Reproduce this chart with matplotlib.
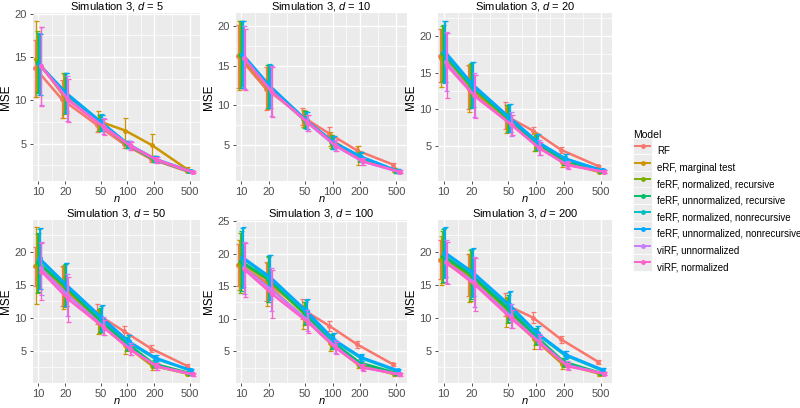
import matplotlib.pyplot as plt
import numpy as np
from matplotlib.legend_handler import HandlerBase
from matplotlib.patches import Rectangle
from matplotlib.lines import Line2D
from matplotlib.ticker import NullFormatter

plt.rcParams['font.family'] = ['Liberation Sans', 'DejaVu Sans']
plt.rcParams['mathtext.fontset'] = 'custom'
plt.rcParams['mathtext.it'] = 'Liberation Sans:italic'
plt.rcParams['mathtext.rm'] = 'Liberation Sans'

n_vals = [10, 20, 50, 100, 200, 500]
dims = [5, 10, 20, 50, 100, 200]
models = ['RF', 'eRF, marginal test', 'feRF, normalized, recursive',
          'feRF, unnormalized, recursive', 'feRF, normalized, nonrecursive',
          'feRF, unnormalized, nonrecursive', 'viRF, unnormalized', 'viRF, normalized']
colors = ['#F8766D', '#CD9600', '#7CAE00', '#00BE67', '#00BFC4', '#00A9FF', '#C77CFF', '#FF61CC']

# mean MSE per model (rows) at n = 10, 20, 50, 100, 200, 500
mse_d5 = [[13.7, 10.1, 7.1, 4.9, 3.2, 1.8],
          [14.8, 10.6, 7.6, 6.5, 4.8, 2.0],
          [14.5, 10.7, 7.4, 4.9, 3.2, 1.8],
          [14.3, 10.8, 7.4, 4.9, 3.2, 1.8],
          [14.2, 10.9, 7.5, 4.9, 3.2, 1.8],
          [14.1, 10.8, 7.4, 4.9, 3.2, 1.8],
          [14.0, 10.2, 7.0, 4.8, 3.1, 1.7],
          [13.9, 10.0, 6.9, 4.7, 3.1, 1.7]]
err_d5 = [[3.3, 2.2, 0.8, 0.4, 0.3, 0.15],
          [4.4, 2.6, 1.2, 1.5, 1.3, 0.3],
          [3.5, 2.3, 0.9, 0.4, 0.3, 0.15],
          [3.5, 2.3, 0.9, 0.4, 0.3, 0.15],
          [3.6, 2.2, 0.9, 0.4, 0.3, 0.15],
          [3.5, 2.3, 0.9, 0.4, 0.3, 0.15],
          [4.5, 2.6, 0.9, 0.5, 0.3, 0.15],
          [4.6, 2.5, 0.9, 0.5, 0.3, 0.15]]

mse_d10 = [[16.2, 12.1, 8.6, 6.4, 4.3, 2.5],
           [16.3, 12.3, 8.3, 5.7, 3.6, 1.8],
           [16.4, 12.4, 8.2, 5.4, 3.5, 1.7],
           [16.4, 12.4, 8.2, 5.3, 3.4, 1.7],
           [16.5, 12.5, 8.1, 5.3, 3.5, 1.7],
           [16.4, 12.4, 8.1, 5.3, 3.5, 1.7],
           [16.0, 11.8, 7.8, 4.9, 2.9, 1.6],
           [15.8, 11.7, 7.8, 4.9, 2.9, 1.6]]
err_d10 = [[4.0, 2.7, 1.1, 0.8, 0.6, 0.25],
           [4.4, 2.8, 1.1, 0.9, 1.2, 0.25],
           [4.2, 2.7, 1.1, 0.8, 0.6, 0.2],
           [4.2, 2.7, 1.1, 0.8, 0.6, 0.2],
           [4.1, 2.7, 1.1, 0.8, 0.6, 0.2],
           [4.2, 2.7, 1.1, 0.8, 0.6, 0.2],
           [4.0, 3.2, 1.0, 0.7, 0.5, 0.2],
           [3.9, 3.2, 1.0, 0.7, 0.5, 0.2]]

mse_d20 = [[17.3, 13.0, 9.2, 7.1, 4.5, 2.3],
           [17.0, 12.8, 8.7, 5.6, 2.8, 1.5],
           [17.6, 13.2, 8.8, 5.4, 3.1, 1.6],
           [17.7, 13.3, 8.8, 5.5, 3.1, 1.6],
           [17.8, 13.3, 8.9, 5.6, 3.3, 1.7],
           [17.9, 13.4, 8.9, 5.6, 3.3, 1.7],
           [16.5, 12.0, 8.0, 4.8, 2.5, 1.5],
           [16.0, 11.8, 7.9, 4.7, 2.4, 1.5]]
err_d20 = [[3.6, 3.0, 1.8, 0.5, 0.4, 0.2],
           [4.0, 3.1, 1.9, 1.2, 0.6, 0.2],
           [3.8, 3.0, 1.8, 1.0, 0.6, 0.2],
           [3.8, 3.0, 1.8, 1.0, 0.6, 0.2],
           [4.2, 3.1, 1.9, 1.0, 0.6, 0.2],
           [4.2, 3.1, 1.9, 1.0, 0.6, 0.2],
           [4.0, 3.0, 1.6, 1.0, 0.5, 0.2],
           [4.4, 2.9, 1.4, 0.9, 0.5, 0.2]]

mse_d50 = [[17.8, 14.8, 10.5, 7.9, 5.3, 2.7],
           [17.9, 14.5, 9.3, 5.8, 2.7, 1.5],
           [18.2, 14.8, 9.5, 6.0, 2.8, 1.5],
           [18.4, 14.9, 9.6, 6.1, 3.0, 1.6],
           [18.9, 15.0, 9.9, 6.3, 3.8, 2.0],
           [19.0, 15.0, 10.0, 6.4, 3.9, 2.0],
           [17.5, 13.5, 8.7, 5.3, 2.6, 1.4],
           [17.0, 12.8, 8.5, 5.1, 2.6, 1.4]]
err_d50 = [[3.0, 3.0, 1.5, 0.8, 0.5, 0.2],
           [5.8, 3.2, 1.8, 1.3, 0.6, 0.2],
           [4.5, 3.2, 1.8, 1.0, 0.5, 0.2],
           [4.5, 3.2, 1.8, 1.0, 0.5, 0.2],
           [4.6, 3.3, 1.9, 1.0, 0.5, 0.2],
           [4.6, 3.3, 1.9, 1.0, 0.5, 0.2],
           [4.0, 3.2, 1.4, 0.9, 0.5, 0.2],
           [4.3, 3.4, 1.2, 0.8, 0.5, 0.2]]

mse_d100 = [[18.3, 15.7, 11.5, 8.9, 6.1, 3.0],
            [18.2, 15.3, 10.3, 6.3, 3.0, 1.5],
            [18.6, 16.0, 10.8, 6.4, 3.1, 1.6],
            [18.8, 16.1, 10.9, 6.5, 3.3, 1.7],
            [19.3, 16.3, 11.1, 6.7, 4.0, 2.0],
            [19.4, 16.4, 11.2, 6.8, 4.1, 2.1],
            [17.8, 14.5, 9.8, 5.8, 2.6, 1.5],
            [17.5, 13.8, 9.4, 5.5, 2.5, 1.5]]
err_d100 = [[3.2, 3.0, 1.6, 0.8, 0.5, 0.2],
            [3.8, 3.3, 1.8, 1.2, 0.6, 0.2],
            [4.6, 3.5, 1.7, 1.1, 0.5, 0.25],
            [4.6, 3.5, 1.7, 1.1, 0.5, 0.25],
            [4.6, 3.4, 1.8, 1.1, 0.5, 0.25],
            [4.6, 3.4, 1.8, 1.1, 0.5, 0.25],
            [4.0, 3.3, 1.6, 1.0, 0.5, 0.2],
            [4.1, 3.7, 1.5, 0.9, 0.5, 0.2]]

mse_d200 = [[18.8, 16.5, 12.0, 10.0, 6.7, 3.3],
            [18.7, 16.0, 10.8, 6.8, 3.0, 1.5],
            [19.2, 16.4, 11.2, 7.0, 3.1, 1.6],
            [19.4, 16.6, 11.4, 7.2, 3.3, 1.6],
            [19.8, 16.8, 11.8, 7.5, 4.3, 2.0],
            [19.9, 16.9, 11.9, 7.6, 4.4, 2.1],
            [18.5, 15.4, 10.2, 6.4, 2.8, 1.5],
            [18.3, 15.0, 9.8, 6.2, 2.6, 1.5]]
err_d200 = [[3.0, 3.2, 1.8, 0.8, 0.5, 0.3],
            [3.7, 3.6, 2.2, 1.5, 0.8, 0.3],
            [4.0, 3.8, 2.0, 1.2, 0.6, 0.3],
            [4.0, 3.8, 2.0, 1.2, 0.6, 0.3],
            [3.8, 3.6, 2.1, 1.2, 0.6, 0.3],
            [3.8, 3.6, 2.1, 1.2, 0.6, 0.3],
            [3.3, 3.8, 1.8, 1.1, 0.6, 0.2],
            [3.2, 4.0, 1.4, 1.0, 0.5, 0.2]]

mse_all = [mse_d5, mse_d10, mse_d20, mse_d50, mse_d100, mse_d200]
err_all = [err_d5, err_d10, err_d20, err_d50, err_d100, err_d200]

# panel rectangles in pixels (left, top, right, bottom) on an 800x408 canvas
W, H = 800, 408
rects = [(33, 13, 200, 181), (236, 13, 407, 181), (438, 13, 612, 181),
         (33, 220, 200, 383), (236, 220, 407, 383), (438, 220, 612, 383)]

fig = plt.figure(figsize=(8, 4.08), dpi=100)
dodge = np.linspace(-0.035, 0.035, len(models))
x_major = n_vals
x_minor = [np.sqrt(a * b) for a, b in zip(n_vals[:-1], n_vals[1:])]

for k, d in enumerate(dims):
    l, t, r, b = rects[k]
    ax = fig.add_axes([l / W, 1 - b / H, (r - l) / W, (b - t) / H])
    ax.set_facecolor('#EBEBEB')
    mse = np.array(mse_all[k])
    err = np.array(err_all[k])
    for i in range(len(models)):
        xs = np.array(n_vals) * 10 ** dodge[i]
        ax.errorbar(xs, mse[i], yerr=err[i], color=colors[i], lw=1.8,
                    elinewidth=0.9, capsize=1.8, capthick=0.9,
                    marker='o', ms=2.5, zorder=3 + i)
    ax.set_xscale('log')
    ax.set_xlim(10 ** 0.94, 10 ** 2.815)
    lo = (mse - err).min()
    hi = (mse + err).max()
    pad = 0.05 * (hi - lo)
    ax.set_xticks(x_major)
    ax.set_xticklabels([str(v) for v in x_major])
    ax.set_xticks(x_minor, minor=True)
    ax.xaxis.set_minor_formatter(NullFormatter())
    ymaj = [v for v in range(5, 30, 5) if lo - pad <= v <= hi + pad]
    ax.set_yticks(ymaj)
    ax.set_yticks([v - 2.5 for v in ymaj] + [ymaj[-1] + 2.5], minor=True)
    ax.yaxis.set_minor_formatter(NullFormatter())
    ax.set_ylim(lo - pad, hi + pad)
    ax.grid(which='major', color='white', lw=1.0)
    ax.grid(which='minor', color='white', lw=0.5)
    ax.set_axisbelow(True)
    for s in ax.spines.values():
        s.set_visible(False)
    ax.tick_params(which='major', length=2.5, width=0.6, color='#333333',
                   labelcolor='#4D4D4D', labelsize=8, pad=2)
    ax.tick_params(which='minor', length=0)
    ax.set_xlabel('n', fontsize=8, fontstyle='italic', labelpad=-2)
    ax.set_ylabel('MSE', fontsize=8.5, labelpad=2)
    ax.set_title('Simulation 3, $d$ = %d' % d, fontsize=8, pad=2)


class KeyHandler(HandlerBase):
    def create_artists(self, legend, orig, xd, yd, width, height, fontsize, trans):
        bg = Rectangle((xd, yd - 0.25 * height), width, height * 1.5,
                       facecolor='#EBEBEB', edgecolor='white', lw=0.5, transform=trans)
        ln = Line2D([xd + 0.1 * width, xd + 0.9 * width], [yd + height / 2] * 2,
                    color=orig.get_color(), lw=1.4, transform=trans)
        pt = Line2D([xd + width / 2], [yd + height / 2], marker='o', ms=2.5,
                    color=orig.get_color(), transform=trans)
        return [bg, ln, pt]


handles = [Line2D([], [], color=c) for c in colors]
leg = fig.legend(handles, models, loc='upper left', bbox_to_anchor=(628 / W, 1 - 125 / H),
                 frameon=False, title='Model', fontsize=7, title_fontsize=7.5,
                 handler_map={Line2D: KeyHandler()}, handlelength=2.0,
                 handleheight=1.4, labelspacing=0.55, handletextpad=0.5,
                 alignment='left', borderpad=0)

fig.savefig('out.png', dpi=100)
